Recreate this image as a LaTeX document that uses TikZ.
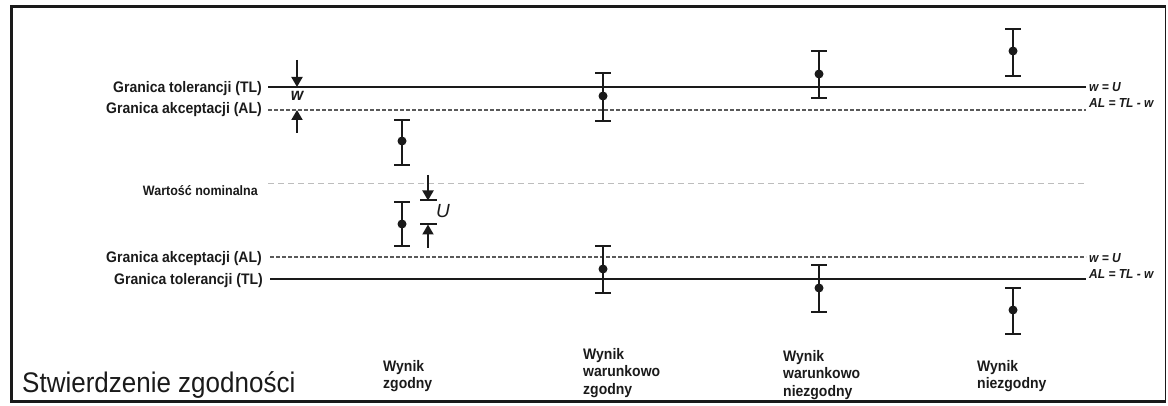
\documentclass[tikz,border=0pt]{standalone}
\usepackage{fontspec}
\setmainfont{Liberation Sans}
\usetikzlibrary{arrows.meta}
\definecolor{ink}{HTML}{1A1A1A}
\definecolor{aldash}{HTML}{5A5A5A}
\definecolor{nomdash}{HTML}{BDBDBD}
\tikzset{
  tall/.style={yscale=1.09},
  tlline/.style={ink, line width=2pt},
  alline/.style={aldash, line width=1.8pt, dash pattern=on 3.5pt off 2.5pt},
  nomline/.style={nomdash, line width=1pt, dash pattern=on 6pt off 4pt},
  ebar/.style={ink, line width=2pt},
  edot/.style={circle, fill=ink, inner sep=0pt, minimum size=9pt},
  dimarrow/.style={ink, line width=2pt, -{Triangle[width=11pt,length=10pt]}},
  lablft/.style={tall, font=\fontsize{14}{16}\selectfont\bfseries, inner sep=0pt, anchor=base east, text=ink},
  labnom/.style={tall, font=\fontsize{12.5}{15}\selectfont\bfseries, inner sep=0pt, anchor=base east, text=ink},
  labrgt/.style={tall, font=\fontsize{12}{14}\selectfont\bfseries\itshape, inner sep=0pt, anchor=base west, text=ink},
  labres/.style={tall, font=\fontsize{14}{16}\selectfont\bfseries, inner sep=0pt, anchor=north west, align=left, text=ink},
}
\begin{document}
\begin{tikzpicture}[x=1pt,y=-1pt]
\useasboundingbox (0,0) rectangle (1168,406);
% frame
\draw[ink, line width=1pt] (1165,6.5) -- (1165,401.5);
\draw[ink, line width=2.6pt, line join=miter] (1166,6.5) -- (11.5,6.5) -- (11.5,401.5) -- (1166,401.5);

% reference lines
\coordinate (tlu-a) at (268,87);   \coordinate (tlu-b) at (1086,87);
\coordinate (alu-a) at (268,110);  \coordinate (alu-b) at (1086,110);
\coordinate (nom-a) at (268,184);  \coordinate (nom-b) at (1086,184);
\coordinate (all-a) at (270,257);  \coordinate (all-b) at (1086,257);
\coordinate (tll-a) at (270,279);  \coordinate (tll-b) at (1086,279);
\draw[tlline] (tlu-a) -- (tlu-b);
\draw[alline] (alu-a) -- (alu-b);
\draw[nomline] (nom-a) -- (nom-b);
\draw[alline] (all-a) -- (all-b);
\draw[tlline] (tll-a) -- (tll-b);

% left labels
\node[lablft] (ltlu) at (262,92.5) {Granica tolerancji (TL)};
\node[lablft] (lalu) at (262,114) {Granica akceptacji (AL)};
\node[labnom] (lnom) at (258,196) {Wartość nominalna};
\node[lablft] (lall) at (262,263) {Granica akceptacji (AL)};
\node[lablft] (ltll) at (263,284) {Granica tolerancji (TL)};

% right labels
\node[labrgt] (rwu1) at (1089,91.7) {w = U};
\node[labrgt] (ral1) at (1089,107.3) {AL = TL - w};
\node[labrgt] (rwu2) at (1089,262.3) {w = U};
\node[labrgt] (ral2) at (1089,278.3) {AL = TL - w};

% w dimension
\coordinate (wd-a) at (297,60);  \coordinate (wd-b) at (297,87);
\coordinate (wu-a) at (297,133); \coordinate (wu-b) at (297,110);
\draw[dimarrow] (wd-a) -- (wd-b);
\draw[dimarrow] (wu-a) -- (wu-b);
\node[tall, font=\fontsize{16}{18}\selectfont\bfseries\itshape, inner sep=0pt, text=ink] (wlab) at (297,96) {w};

% U dimension
\coordinate (ud-a) at (428,175); \coordinate (ud-b) at (428,200.5);
\coordinate (uu-a) at (428,248); \coordinate (uu-b) at (428,224.5);
\coordinate (ubar1-l) at (420,200.5); \coordinate (ubar1-r) at (437,200.5);
\coordinate (ubar2-l) at (420,224.5); \coordinate (ubar2-r) at (437,224.5);
\draw[dimarrow] (ud-a) -- (ud-b);
\draw[dimarrow] (uu-a) -- (uu-b);
\draw[ebar] (ubar1-l) -- (ubar1-r);
\draw[ebar] (ubar2-l) -- (ubar2-r);
\node[font=\fontsize{19}{20}\selectfont\itshape, inner sep=0pt, text=ink] (ulab) at (443,211.5) {U};

% error bars: index/x/top/dot/bottom
\foreach \i/\x/\t/\d/\b in {1/402/120/141/165, 2/402/202/224/246,
  3/603/73/96/121, 4/819/51/74/98, 5/1013/29/51/76,
  6/603/246/269/293, 7/819/265/288/312, 8/1013/288/310/334}{
  \coordinate (t\i) at (\x,\t);
  \coordinate (b\i) at (\x,\b);
  \coordinate (tl\i) at (\x-8,\t); \coordinate (tr\i) at (\x+8,\t);
  \coordinate (bl\i) at (\x-8,\b); \coordinate (br\i) at (\x+8,\b);
  \draw[ebar] (t\i) -- (b\i);
  \draw[ebar] (tl\i) -- (tr\i);
  \draw[ebar] (bl\i) -- (br\i);
  \node[edot] (d\i) at (\x,\d) {};
}

% bottom labels
\node[tall, font=\fontsize{26}{28}\selectfont, inner sep=0pt, anchor=base west, text=ink] (title) at (22,392) {Stwierdzenie zgodności};
\node[labres] (res1) at (383,360) {Wynik\\zgodny};
\node[labres] (res2) at (583,348) {Wynik\\warunkowo\\zgodny};
\node[labres] (res3) at (783,350) {Wynik\\warunkowo\\niezgodny};
\node[labres] (res4) at (977,360) {Wynik\\niezgodny};
\end{tikzpicture}
\end{document}
